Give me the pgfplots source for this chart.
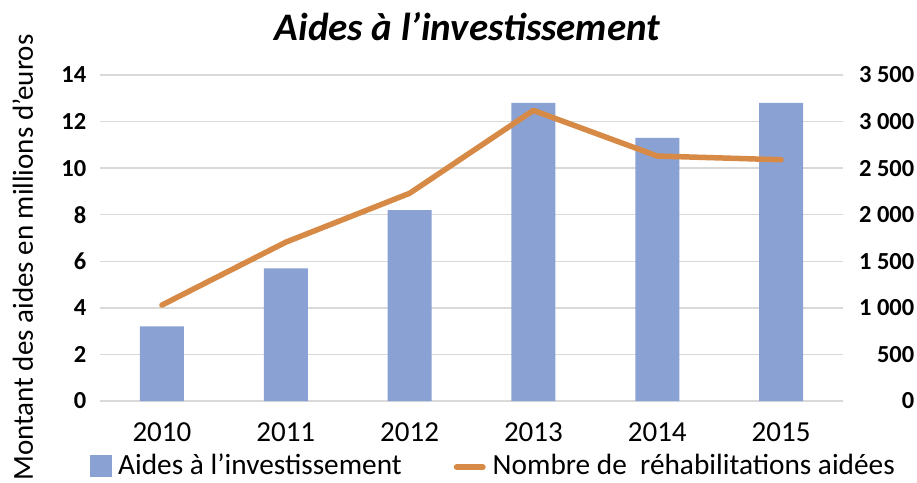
\documentclass[border=0pt]{standalone}
\usepackage{fontspec}
\setmainfont{Carlito}
\usepackage{pgfplots}
\pgfplotsset{compat=1.18}
\definecolor{barblue}{RGB}{138,161,212}
\definecolor{lineorange}{RGB}{215,138,70}
\definecolor{gridgray}{RGB}{217,217,217}
\begin{document}
\begin{tikzpicture}
\path[use as bounding box] (-100pt,-81pt) rectangle (817pt,401pt);
\begin{axis}[
  at={(0pt,0pt)}, anchor=south west,
  scale only axis, width=743pt, height=326pt,
  xmin=-0.5, xmax=5.5, ymin=0, ymax=14,
  ytick={0,2,...,14},
  xtick={0,1,2,3,4,5},
  xticklabels={2010,2011,2012,2013,2014,2015},
  axis x line*=bottom, axis y line*=left,
  axis line style={draw=none},
  major tick length=0pt,
  ymajorgrids, grid style={gridgray, line width=1.5pt},
  /pgf/number format/assume math mode=true,
  yticklabel style={font=\fontsize{24.5}{26}\selectfont\bfseries, inner sep=0pt, anchor=east, xshift=-13.5pt},
  xticklabel style={font=\fontsize{29}{31}\selectfont, inner sep=0pt, anchor=base, yshift=-40pt},
  legend columns=2,
  legend style={at={(axis description cs:-0.0135,-0.1986)}, anchor=west, draw=none, fill=none,
    font=\fontsize{29.3}{31}\selectfont, inner sep=0pt, nodes={inner sep=0pt},
    /tikz/column 1/.style={column sep=6pt},
    /tikz/column 2/.style={column sep=52pt},
    /tikz/column 3/.style={column sep=7pt}},
  legend cell align=left,
]
\addplot[ybar, bar width=44pt, fill=barblue, draw=none,
  legend image code/.code={\fill[barblue] (0pt,-12.25pt) rectangle (22pt,9.75pt);}]
  coordinates {(0,3.2) (1,5.7) (2,8.2) (3,12.8) (4,11.3) (5,12.8)};
\addlegendentry{Aides à l’investissement}
\addlegendimage{lineorange, line width=6pt, line cap=round,
  legend image code/.code={\draw (3pt,-2pt) -- (29pt,-2pt);}}
\addlegendentry{Nombre de\ \ réhabilitations aidées}
\end{axis}
\begin{axis}[
  at={(0pt,0pt)}, anchor=south west,
  scale only axis, width=743pt, height=326pt,
  xmin=-0.5, xmax=5.5, ymin=0, ymax=3500,
  ytick={0,500,...,3500},
  axis y line*=right, axis x line=none,
  axis line style={draw=none},
  major tick length=0pt,
  /pgf/number format/assume math mode=true,
  /pgf/number format/1000 sep={\ },
  yticklabel style={font=\fontsize{24.5}{26}\selectfont\bfseries, inner sep=0pt, anchor=east, xshift=71.5pt},
]
\addplot[lineorange, line width=5.5pt, line cap=round, line join=round]
  coordinates {(0,1030) (1,1705) (2,2230) (3,3120) (4,2630) (5,2590)};
\end{axis}
\node[anchor=base, font=\fontsize{39}{42}\selectfont\bfseries\itshape] at (367.5pt,360pt) {Aides à l’investissement};
\node[anchor=base, rotate=90, inner sep=0pt, font=\fontsize{29}{31}\selectfont] at (-67pt,143.5pt) {Montant des aides en millions d’euros};
\end{tikzpicture}
\end{document}
